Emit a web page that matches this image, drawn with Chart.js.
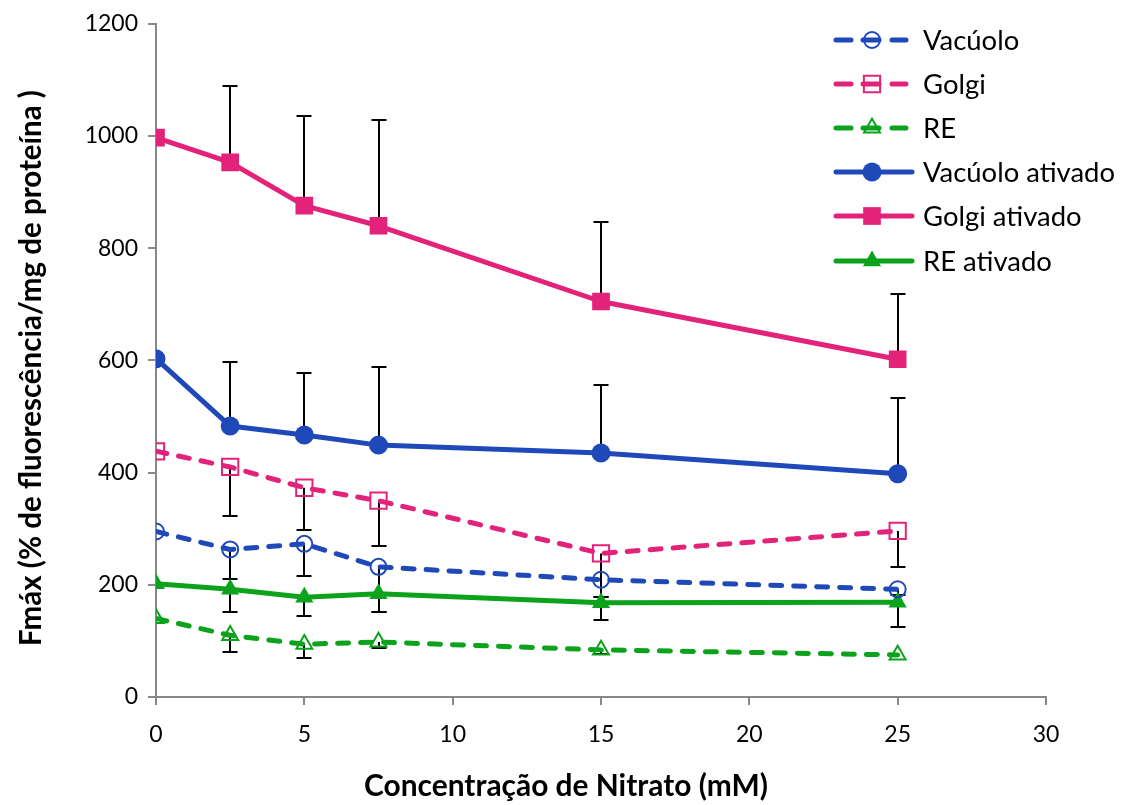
<!DOCTYPE html>
<html><head><meta charset="utf-8">
<script src="https://cdn.jsdelivr.net/npm/chart.js@4.4.1/dist/chart.umd.min.js"></script>
<style>html,body{margin:0;padding:0;background:#fff}canvas{display:block}</style>
</head><body>
<canvas id="c" width="1133" height="805"></canvas>
<script>
// ---- data ----
const concentrations = [0, 2.5, 5, 7.5, 15, 25];
const vacuolo        = [295, 263, 273, 232, 209, 192];
const golgi          = [438, 410, 373, 350, 256, 296];
const re             = [140, 110, 94, 98, 84, 75];
const vacuoloAtivado = [603, 483, 467, 449, 435, 398];
const golgiAtivado   = [997, 953, 876, 840, 705, 602];
const reAtivado      = [202, 192, 178, 184, 168, 169];
// error bar sizes (dashed series + RE ativado downward, others upward)
const vacuoloErr        = [0, 53, 58, 81, 30, 10];
const golgiErr          = [0, 88, 75, 80, 77, 64];
const reErr             = [0, 30, 25, 11, 8, 0];
const vacuoloAtivadoErr = [0, 115, 110, 140, 122, 135];
const golgiAtivadoErr   = [0, 137, 160, 188, 142, 117];
const reAtivadoErr      = [0, 40, 34, 33, 30, 44];
const xTickValues = [0, 5, 10, 15, 20, 25, 30];
const yTickValues = [0, 200, 400, 600, 800, 1000, 1200];
const seriesNames = ['Vacúolo', 'Golgi', 'RE', 'Vacúolo ativado', 'Golgi ativado', 'RE ativado'];
const xTitle = 'Concentração de Nitrato (mM)';
const yTitle = 'Fmáx (% de fluorescência/mg de proteína )';

const BLUE = '#1F48B9', PINK = '#E3227A', GREEN = '#0CA21C';
const FONT = 'Lato, "Open Sans", sans-serif';
const pts = arr => arr.map((v, i) => ({x: concentrations[i], y: v}));

function ds(name, values, err, dir, color, dashed, style, radius) {
  return {
    label: name, data: pts(values), err: err, errDir: dir,
    borderColor: color, backgroundColor: color, borderWidth: 5,
    borderDash: dashed ? [11, 12] : [], borderCapStyle: 'round', borderJoinStyle: 'round',
    pointStyle: style, pointRadius: radius, pointHoverRadius: radius,
    pointBorderColor: color, pointBorderWidth: dashed ? 2 : 0,
    pointBackgroundColor: dashed ? 'rgba(0,0,0,0)' : color,
    tension: 0, fill: false
  };
}

const datasets = [
  ds(seriesNames[0], vacuolo, vacuoloErr, -1, BLUE, true, 'circle', 8),
  ds(seriesNames[1], golgi, golgiErr, -1, PINK, true, 'rect', 11.5),
  ds(seriesNames[2], re, reErr, -1, GREEN, true, 'triangle', 9.2),
  ds(seriesNames[3], vacuoloAtivado, vacuoloAtivadoErr, 1, BLUE, false, 'circle', 9.5),
  ds(seriesNames[4], golgiAtivado, golgiAtivadoErr, 1, PINK, false, 'rect', 12.5),
  ds(seriesNames[5], reAtivado, reAtivadoErr, -1, GREEN, false, 'triangle', 10.5)
];

const H = Chart.helpers;

const errorBars = {
  id: 'errorBars',
  beforeDatasetsDraw(chart) {
    const ctx = chart.ctx, xs = chart.scales.x, ys = chart.scales.y;
    ctx.save();
    ctx.strokeStyle = '#000'; ctx.lineWidth = 2; ctx.setLineDash([]);
    chart.data.datasets.forEach(d => {
      d.data.forEach((p, i) => {
        const e = d.err[i]; if (!e) return;
        const px = Math.round(xs.getPixelForValue(p.x));
        const py = ys.getPixelForValue(p.y);
        const pe = Math.round(ys.getPixelForValue(p.y + d.errDir * e));
        ctx.beginPath();
        ctx.moveTo(px, py); ctx.lineTo(px, pe);
        ctx.moveTo(px - 7.5, pe); ctx.lineTo(px + 7.5, pe);
        ctx.stroke();
      });
    });
    ctx.restore();
  }
};

function fitFont(ctx, text, weight, targetWidth) {
  let s = 24;
  ctx.font = weight + ' ' + s + 'px ' + FONT;
  const w = ctx.measureText(text).width;
  s = s * targetWidth / w;
  ctx.font = weight + ' ' + s.toFixed(2) + 'px ' + FONT;
  return s;
}

const decorations = {
  id: 'decorations',
  afterDraw(chart) {
    const ctx = chart.ctx;
    ctx.save();
    // axis titles
    ctx.fillStyle = '#000';
    ctx.textAlign = 'center'; ctx.textBaseline = 'middle';
    fitFont(ctx, xTitle, 'bold', 404);
    ctx.fillText(xTitle, 566, 786);
    ctx.translate(31, 368); ctx.rotate(-Math.PI / 2);
    fitFont(ctx, yTitle, 'bold', 556);
    ctx.fillText(yTitle, 0, 0);
    ctx.restore();

    // legend
    ctx.save();
    const legendSize = fitFont(ctx, seriesNames[3], 'normal', 192);
    ctx.restore();
    const ys = [40, 84, 128, 172, 216, 261];
    chart.data.datasets.forEach((d, i) => {
      const y = ys[i];
      ctx.save();
      ctx.strokeStyle = d.borderColor; ctx.lineWidth = 5; ctx.lineCap = 'round';
      ctx.beginPath();
      if (d.borderDash.length) {
        ctx.moveTo(836, y); ctx.lineTo(851, y);
        ctx.moveTo(863, y); ctx.lineTo(879, y);
        ctx.moveTo(892, y); ctx.lineTo(906, y);
      } else {
        ctx.moveTo(836, y); ctx.lineTo(912, y);
      }
      ctx.stroke();
      ctx.fillStyle = d.pointBackgroundColor; ctx.strokeStyle = d.pointBorderColor;
      ctx.lineWidth = d.pointBorderWidth;
      H.drawPoint(ctx, {pointStyle: d.pointStyle, rotation: 0, radius: d.pointRadius, borderWidth: d.pointBorderWidth}, 872, y);
      ctx.fillStyle = '#000'; ctx.font = legendSize.toFixed(2) + 'px ' + FONT;
      ctx.textAlign = 'left'; ctx.textBaseline = 'middle';
      ctx.fillText(d.label, 923, y + 1);
      ctx.restore();
    });
  }
};

const axisStyle = {
  grid: {drawOnChartArea: false, drawTicks: true, tickLength: 8, color: '#888888', lineWidth: 2},
  border: {color: '#888888', width: 2}
};

new Chart(document.getElementById('c'), {
  type: 'line',
  data: {datasets},
  options: {
    responsive: false, animation: false,
    layout: {padding: {left: 0, right: 87, top: 19, bottom: 0}},
    plugins: {legend: {display: false}, tooltip: {enabled: false}},
    scales: {
      x: {
        type: 'linear', min: 0, max: 30,
        afterBuildTicks: s => { s.ticks = xTickValues.map(v => ({value: v})); },
        ticks: {color: '#000', font: {family: FONT, size: 23}, padding: 16, maxRotation: 0,
                callback: v => String(v)},
        afterFit: s => { s.height = 108; },
        ...axisStyle
      },
      y: {
        type: 'linear', min: 0, max: 1200,
        afterBuildTicks: s => { s.ticks = yTickValues.map(v => ({value: v})); },
        ticks: {color: '#000', font: {family: FONT, size: 23}, padding: 10,
                callback: v => String(v)},
        afterFit: s => { s.width = 156; },
        ...axisStyle
      }
    }
  },
  plugins: [errorBars, decorations]
});
</script>
</body></html>
